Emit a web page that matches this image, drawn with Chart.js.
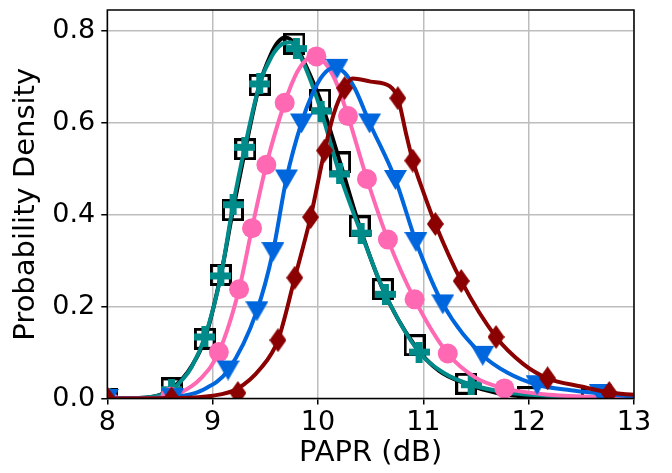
<!DOCTYPE html>
<html>
<head>
<meta charset="utf-8">
<script src="https://cdn.jsdelivr.net/npm/chart.js@4.4.1/dist/chart.umd.min.js"></script>
<style>
  html, body { margin: 0; padding: 0; background: #fff; }
  #wrap { width: 672px; height: 473px; }
</style>
</head>
<body>
<div id="wrap"><canvas id="pdfChart" width="672" height="473"></canvas></div>
<script>
// curve samples (PAPR dB -> density)
const blackX = [8.0, 8.3, 8.5, 8.61, 8.72, 8.8, 8.926, 9.078, 9.193, 9.31, 9.445, 9.55, 9.62, 9.69, 9.777, 9.88, 10.02, 10.21, 10.395, 10.616, 10.917, 11.15, 11.407, 11.7, 12.0, 12.6, 13.0];
const blackY = [0.0, 0.001, 0.008, 0.022, 0.045, 0.07, 0.13, 0.269, 0.41, 0.543, 0.683, 0.748, 0.776, 0.786, 0.773, 0.727, 0.651, 0.514, 0.375, 0.238, 0.116, 0.06, 0.032, 0.012, 0.004, 0.001, 0.0];

const tealX = [8.0, 8.3, 8.5, 8.61, 8.72, 8.8, 8.926, 9.078, 9.194, 9.305, 9.447, 9.56, 9.66, 9.74, 9.795, 9.9, 10.03, 10.205, 10.41, 10.64, 10.96, 11.2, 11.454, 11.8, 12.1, 12.6, 13.0];
const tealY = [0.0, 0.001, 0.007, 0.019, 0.043, 0.068, 0.134, 0.267, 0.422, 0.547, 0.685, 0.745, 0.772, 0.776, 0.762, 0.71, 0.626, 0.489, 0.36, 0.227, 0.101, 0.055, 0.03, 0.013, 0.007, 0.002, 0.001];

const pinkX = [8.0, 8.4, 8.6, 8.7, 8.88, 9.059, 9.251, 9.374, 9.51, 9.684, 9.8, 9.9, 9.975, 10.07, 10.17, 10.285, 10.465, 10.664, 10.917, 11.232, 11.5, 11.77, 12.2, 12.8, 13.0];
const pinkY = [0.0, 0.001, 0.004, 0.013, 0.042, 0.101, 0.238, 0.371, 0.509, 0.644, 0.71, 0.74, 0.747, 0.73, 0.69, 0.615, 0.478, 0.346, 0.216, 0.098, 0.045, 0.022, 0.008, 0.002, 0.001];

const blueX = [8.0, 8.4, 8.62, 8.75, 8.9, 9.147, 9.42, 9.573, 9.7, 9.843, 9.95, 10.05, 10.15, 10.25, 10.35, 10.49, 10.735, 10.93, 11.185, 11.564, 11.8, 12.08, 12.4, 12.68, 13.0];
const blueY = [0.0, 0.0, 0.002, 0.007, 0.018, 0.062, 0.191, 0.32, 0.478, 0.6, 0.665, 0.705, 0.72, 0.71, 0.675, 0.6, 0.477, 0.342, 0.206, 0.094, 0.056, 0.03, 0.018, 0.011, 0.004];

const redX = [8.0, 8.61, 9.0, 9.24, 9.45, 9.62, 9.78, 9.93, 10.063, 10.15, 10.253, 10.33, 10.5, 10.68, 10.758, 10.84, 10.9, 11.0, 11.114, 11.36, 11.69, 11.95, 12.18, 12.5, 12.765, 13.0];
const redY = [0.0, 0.001, 0.006, 0.022, 0.064, 0.127, 0.263, 0.395, 0.54, 0.62, 0.676, 0.697, 0.69, 0.68, 0.654, 0.573, 0.518, 0.45, 0.38, 0.256, 0.134, 0.075, 0.044, 0.026, 0.013, 0.008];

// marker positions
const blackMarkX = [8.0, 8.61, 8.926, 9.078, 9.193, 9.31, 9.445, 9.777, 10.02, 10.21, 10.395, 10.616, 10.917, 11.407, 11.99, 12.6];
const blackMarkY = [0.0, 0.022, 0.13, 0.269, 0.41, 0.543, 0.683, 0.773, 0.651, 0.514, 0.375, 0.238, 0.116, 0.032, 0.003, 0.001];
const tealMarkX = [8.0, 8.61, 8.926, 9.078, 9.194, 9.305, 9.447, 9.795, 10.03, 10.205, 10.41, 10.64, 10.96, 11.454];
const tealMarkY = [0.0, 0.019, 0.134, 0.267, 0.422, 0.547, 0.685, 0.762, 0.626, 0.489, 0.36, 0.227, 0.101, 0.03];
const pinkMarkX = [8.0, 8.6, 9.059, 9.251, 9.374, 9.51, 9.684, 9.985, 10.285, 10.465, 10.664, 10.917, 11.232, 11.77];
const pinkMarkY = [0.0, 0.004, 0.101, 0.238, 0.371, 0.509, 0.644, 0.745, 0.615, 0.478, 0.346, 0.216, 0.098, 0.022];
const blueMarkX = [8.0, 8.62, 9.147, 9.42, 9.573, 9.7, 9.843, 10.18, 10.49, 10.735, 10.93, 11.185, 11.564, 12.08, 12.68];
const blueMarkY = [0.0, 0.002, 0.062, 0.191, 0.32, 0.478, 0.6, 0.719, 0.6, 0.477, 0.342, 0.206, 0.094, 0.03, 0.011];
const redMarkX = [8.0, 8.61, 9.24, 9.62, 9.78, 9.93, 10.063, 10.253, 10.758, 10.9, 11.114, 11.36, 11.69, 12.18, 12.765];
const redMarkY = [0.0, 0.0, 0.012, 0.127, 0.263, 0.395, 0.54, 0.676, 0.654, 0.518, 0.38, 0.256, 0.134, 0.044, 0.012];

const xTicks = [8, 9, 10, 11, 12, 13];
const yTicks = [0.0, 0.2, 0.4, 0.6, 0.8];

const TEAL = '#008b8b', PINK = '#ff69b4', BLUE = '#0066dd', RED = '#8b0000';

function pts(xs, ys) { return xs.map((x, i) => ({ x: x, y: ys[i] })); }

function markerCanvas(w, h, paint) {
  const c = document.createElement('canvas');
  c.width = w; c.height = h;
  paint(c.getContext('2d'));
  return c;
}
const squareMark = markerCanvas(22, 22, ctx => {
  ctx.strokeStyle = '#000'; ctx.lineWidth = 3; ctx.strokeRect(1.5, 1.5, 19, 19);
});
const plusMark = markerCanvas(21, 21, ctx => {
  ctx.fillStyle = TEAL; ctx.fillRect(7, 0, 7, 21); ctx.fillRect(0, 7, 21, 7);
});
const triMark = markerCanvas(23, 21, ctx => {
  ctx.fillStyle = BLUE; ctx.beginPath();
  ctx.moveTo(0, 1); ctx.lineTo(23, 1); ctx.lineTo(11.5, 21); ctx.closePath(); ctx.fill();
});
const diamondMark = markerCanvas(17, 24, ctx => {
  ctx.fillStyle = RED; ctx.beginPath();
  ctx.moveTo(8.5, 0); ctx.lineTo(17, 12); ctx.lineTo(8.5, 24); ctx.lineTo(0, 12); ctx.closePath(); ctx.fill();
});

function curve(xs, ys, color, order, width) {
  return {
    data: pts(xs, ys), borderColor: color, borderWidth: width, pointRadius: 0,
    cubicInterpolationMode: 'monotone', fill: false, clip: 0, order: order
  };
}
function marks(xs, ys, style, order, extra) {
  return Object.assign({
    data: pts(xs, ys), showLine: false, pointStyle: style, pointRadius: 10,
    pointBorderWidth: 0, clip: 0, order: order
  }, extra || {});
}

// axes box on top (spines)
const frame = {
  id: 'frame',
  afterDatasetsDraw(chart) {
    const a = chart.chartArea, ctx = chart.ctx;
    ctx.save();
    ctx.strokeStyle = '#000'; ctx.lineWidth = 1.5;
    ctx.strokeRect(a.left, a.top, a.right - a.left, a.bottom - a.top);
    ctx.restore();
  }
};

new Chart(document.getElementById('pdfChart').getContext('2d'), {
  type: 'line',
  data: {
    datasets: [
      marks(redMarkX, redMarkY, diamondMark, 0),
      curve(redX, redY, RED, 1, 4),
      marks(blueMarkX, blueMarkY, triMark, 2),
      curve(blueX, blueY, BLUE, 3, 4),
      marks(pinkMarkX, pinkMarkY, 'circle', 4, { pointRadius: 10, pointBackgroundColor: PINK, pointBorderColor: PINK }),
      curve(pinkX, pinkY, PINK, 5, 4),
      marks(tealMarkX, tealMarkY, plusMark, 6),
      curve(tealX, tealY, TEAL, 7, 4),
      marks(blackMarkX, blackMarkY, squareMark, 8),
      curve(blackX, blackY, '#000', 9, 4)
    ]
  },
  options: {
    responsive: false,
    animation: false,
    devicePixelRatio: 1,
    layout: { padding: { left: 0, top: 6, right: 38, bottom: 0 } },
    plugins: { legend: { display: false }, tooltip: { enabled: false } },
    scales: {
      x: {
        type: 'linear', min: 8, max: 13,
        afterBuildTicks: s => { s.ticks = xTicks.map(v => ({ value: v })); },
        afterFit: s => { s.height = 74.5; s.paddingLeft = 0; s.paddingRight = 0; },
        grid: { color: '#bdbdbd', lineWidth: 1.5, tickColor: '#000', tickWidth: 1.5, tickLength: 6 },
        border: { display: false },
        ticks: { color: '#000', font: { family: 'DejaVu Sans', size: 27 }, padding: 2, maxRotation: 0 },
        title: { display: true, text: 'PAPR (dB)', color: '#000', font: { family: 'DejaVu Sans', size: 29 }, padding: { top: 0, bottom: 2 } }
      },
      y: {
        type: 'linear', min: 0, max: 0.846,
        afterBuildTicks: s => { s.ticks = yTicks.map(v => ({ value: v })); },
        afterFit: s => { s.width = 107.3; s.paddingTop = 0; s.paddingBottom = 0; },
        grid: { color: '#bdbdbd', lineWidth: 1.5, tickColor: '#000', tickWidth: 1.5, tickLength: 6 },
        border: { display: false },
        ticks: { color: '#000', font: { family: 'DejaVu Sans', size: 27 }, padding: 6, callback: v => v.toFixed(1) },
        title: { display: true, text: 'Probability Density', color: '#000', font: { family: 'DejaVu Sans', size: 29 }, padding: { top: 9, bottom: 4 } }
      }
    }
  },
  plugins: [frame]
});
</script>
</body>
</html>
